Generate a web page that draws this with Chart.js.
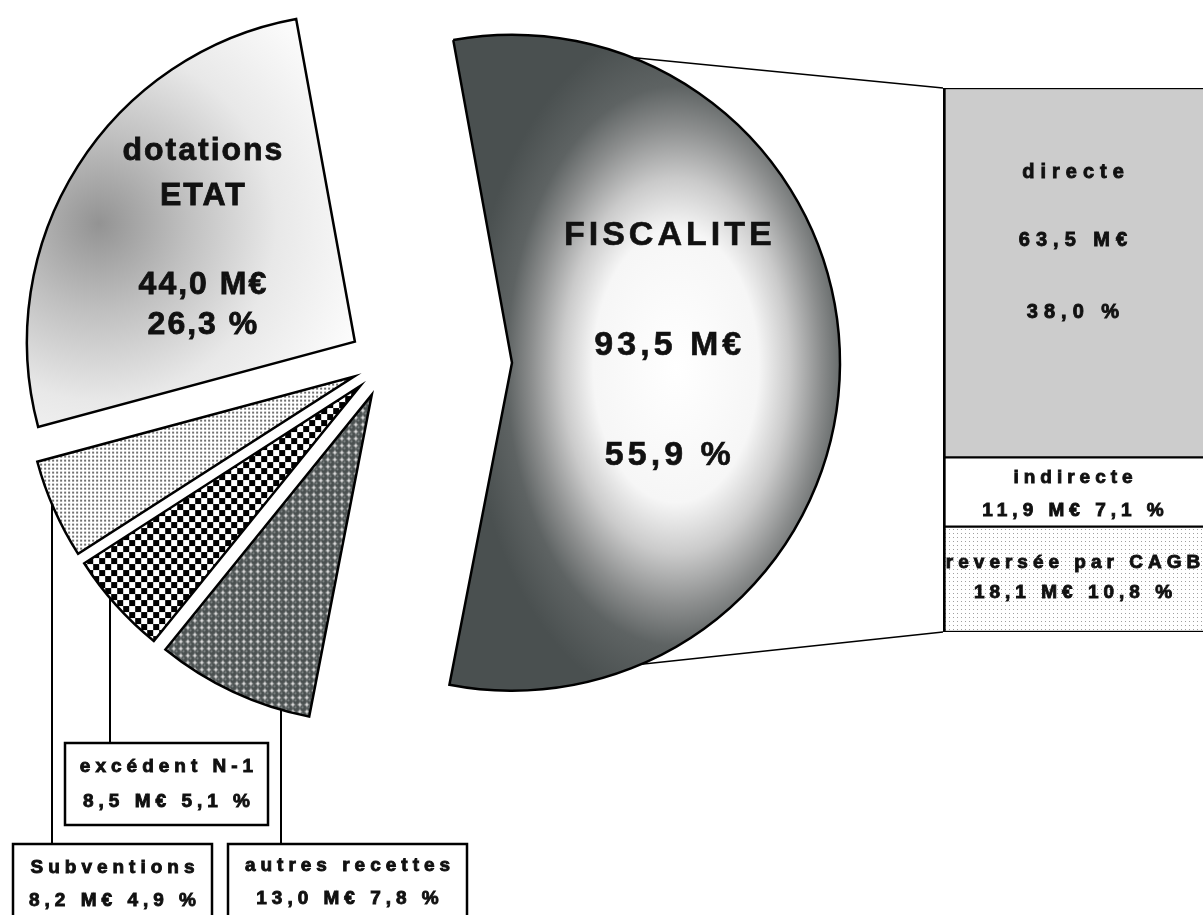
<!DOCTYPE html>
<html>
<head>
<meta charset="utf-8">
<script src="https://cdn.jsdelivr.net/npm/chart.js@4.4.1/dist/chart.umd.min.js"></script>
<style>
  body { margin: 0; background: #fff; }
  #wrap { position: relative; width: 1203px; height: 915px; overflow: hidden; }
  #wrap canvas { position: absolute; left: 0; top: 0; }
</style>
</head>
<body>
<div id="wrap">
  <canvas id="bar" width="1203" height="915"></canvas>
  <canvas id="pie" width="1203" height="915"></canvas>
</div>
<script>
// Recettes (M€) - camembert, dans l'ordre de dessin
var categories = ['autres recettes', 'excédent N-1', 'Subventions', 'dotations ETAT', 'FISCALITE'];
var amounts = [13.0, 8.5, 8.2, 44.0, 93.5];
var percents = [7.8, 5.1, 4.9, 26.3, 55.9];

// Détail de la fiscalité (barre de droite)
var fiscCategories = ['directe', 'indirecte', 'reversée par CAGB'];
var fiscAmounts = [63.5, 11.9, 18.1];
var fiscPercents = [38.0, 7.1, 10.8];

function fr(v) {
    return v.toFixed(1).replace('.', ',');
}

// styles
var RADIUS = 328;
var explode = [36, 36, 36, 38, 125];
var FONT = '"Liberation Sans", Arial, sans-serif';

// boîtes des petites parts (index -> boîte)
var boxes = {
    0: { lineX: 281, x: 228, y: 844, w: 239, h: 80, ty: [866, 899] },
    1: { lineX: 110, x: 65, y: 743, w: 203, h: 82, ty: [767, 802] },
    2: { lineX: 52, x: 13, y: 844, w: 199, h: 80, ty: [868, 901] }
};

var pctx = document.getElementById('pie').getContext('2d');

function tile(w, h, paint) {
    var c = document.createElement('canvas');
    c.width = w; c.height = h;
    paint(c.getContext('2d'));
    return pctx.createPattern(c, 'repeat');
}

var patterns = {
    dots: tile(4, 4, function(g) {
        g.fillStyle = '#fff'; g.fillRect(0, 0, 4, 4);
        g.fillStyle = '#707070'; g.fillRect(1, 1, 2, 2);
    }),
    checker: tile(12, 12, function(g) {
        g.fillStyle = '#fff'; g.fillRect(0, 0, 12, 12);
        g.fillStyle = '#000'; g.fillRect(0, 0, 6, 6); g.fillRect(6, 6, 6, 6);
    }),
    balls: tile(7, 7, function(g) {
        g.fillStyle = '#dcdcdc'; g.fillRect(0, 0, 7, 7);
        g.fillStyle = '#4a5050';
        g.beginPath(); g.arc(3.5, 3.5, 3.4, 0, Math.PI * 2); g.fill();
        g.fillStyle = '#858b8b';
        g.beginPath(); g.arc(2.6, 2.6, 1.1, 0, Math.PI * 2); g.fill();
    }),
    fine: tile(4, 4, function(g) {
        g.fillStyle = '#fff'; g.fillRect(0, 0, 4, 4);
        g.fillStyle = '#a0a0a0'; g.fillRect(1, 1, 1, 1);
    })
};

var fiscPattern = null;

function pieFill(c) {
    var i = c.dataIndex;
    var chart = c.chart;
    if (i === 0) return patterns.balls;
    if (i === 1) return patterns.checker;
    if (i === 2) return patterns.dots;
    var a = chart.chartArea;
    if (!a) return '#cccccc';
    var cx = (a.left + a.right) / 2, cy = (a.top + a.bottom) / 2;
    if (i === 3) {
        var gx = cx - 0.78 * RADIUS, gy = cy - 0.36 * RADIUS;
        var gr = chart.ctx.createRadialGradient(gx, gy, 0, gx, gy, 0.9 * RADIUS);
        gr.addColorStop(0, '#939393');
        gr.addColorStop(0.3, '#c0c0c0');
        gr.addColorStop(0.6, '#e8e8e8');
        gr.addColorStop(1, '#ffffff');
        return gr;
    }
    if (!fiscPattern) {
        // dégradé "depuis le centre", elliptique
        var off = document.createElement('canvas');
        off.width = chart.width; off.height = chart.height;
        var g = off.getContext('2d');
        g.setTransform(0.63 * RADIUS, 0, 0, 1.04 * RADIUS, cx + 0.5 * RADIUS, cy + 0.01 * RADIUS);
        var grad = g.createRadialGradient(0, 0, 0, 0, 0, 1);
        grad.addColorStop(0, '#ffffff');
        grad.addColorStop(0.4, '#f6f6f6');
        grad.addColorStop(0.55, '#cacaca');
        grad.addColorStop(0.7, '#8c8e8e');
        grad.addColorStop(0.82, '#5e6363');
        grad.addColorStop(1, '#4a5050');
        g.fillStyle = grad;
        g.fillRect(-5, -5, 10, 10);
        fiscPattern = chart.ctx.createPattern(off, 'no-repeat');
    }
    return fiscPattern;
}

// texte espacé, épaissi d'un léger contour
function textLine(ctx, txt, x, y, font, spacing, heavy) {
    ctx.font = font;
    ctx.letterSpacing = spacing + 'px';
    ctx.fillText(txt, x + spacing / 2, y);
    if (heavy) {
        ctx.lineWidth = heavy;
        ctx.strokeStyle = ctx.fillStyle;
        ctx.strokeText(txt, x + spacing / 2, y);
    }
}

function apex(arc, i) {
    var mid = (arc.startAngle + arc.endAngle) / 2;
    return { x: arc.x + Math.cos(mid) * explode[i], y: arc.y + Math.sin(mid) * explode[i], mid: mid };
}

// éclatement des parts
var explodePlugin = {
    id: 'explode',
    beforeDatasetDraw: function(chart, args) {
        var ctx = chart.ctx;
        args.meta.data.forEach(function(arc, i) {
            var p = apex(arc, i);
            ctx.save();
            ctx.translate(p.x - arc.x, p.y - arc.y);
            arc.draw(ctx, chart.chartArea);
            ctx.restore();
        });
        return false;
    }
};

var pieLabels = {
    id: 'pieLabels',
    afterDatasetsDraw: function(chart) {
        var ctx = chart.ctx;
        var arcs = chart.getDatasetMeta(0).data;
        ctx.save();
        ctx.fillStyle = '#111';
        ctx.textAlign = 'center';
        ctx.textBaseline = 'middle';

        // dotations ETAT
        var p = apex(arcs[3], 3);
        var lx = p.x + Math.cos(p.mid) * 0.55 * RADIUS;
        var ly = p.y + Math.sin(p.mid) * 0.55 * RADIUS;
        var words = categories[3].split(' ');
        var f1 = 'bold 32px ' + FONT;
        textLine(ctx, words[0], lx, ly - 94, f1, 2, 0.8);
        textLine(ctx, words[1], lx, ly - 49, f1, 2, 0.8);
        textLine(ctx, fr(amounts[3]) + ' M€', lx, ly + 40, f1, 2, 0.8);
        textLine(ctx, fr(percents[3]) + ' %', lx, ly + 80, f1, 2, 0.8);

        // FISCALITE
        p = apex(arcs[4], 4);
        lx = p.x + Math.cos(p.mid) * 0.475 * RADIUS;
        ly = p.y + Math.sin(p.mid) * 0.475 * RADIUS - 18;
        var f2 = 'bold 34px ' + FONT;
        textLine(ctx, categories[4], lx, ly - 110, f2, 4, 0.6);
        textLine(ctx, fr(amounts[4]) + ' M€', lx, ly, f2, 4, 0.6);
        textLine(ctx, fr(percents[4]) + ' %', lx, ly + 110, f2, 4, 0.6);

        // petites parts : trait + boîte
        var f3 = 'bold 19px ' + FONT;
        Object.keys(boxes).forEach(function(k) {
            var i = +k, b = boxes[k];
            var q = apex(arcs[i], i);
            var dx = b.lineX - q.x;
            var y0 = q.y + Math.sqrt(RADIUS * RADIUS - dx * dx);
            ctx.strokeStyle = '#000';
            ctx.lineWidth = 2;
            ctx.beginPath();
            ctx.moveTo(b.lineX, y0);
            ctx.lineTo(b.lineX, b.y);
            ctx.stroke();
            ctx.fillStyle = '#fff';
            ctx.fillRect(b.x, b.y, b.w, b.h);
            ctx.lineWidth = 2.5;
            ctx.strokeRect(b.x, b.y, b.w, b.h);
            ctx.fillStyle = '#111';
            var cx = b.x + b.w / 2;
            textLine(ctx, categories[i], cx, b.ty[0], f3, 5, 0.9);
            textLine(ctx, fr(amounts[i]) + ' M€ ' + fr(percents[i]) + ' %', cx, b.ty[1], f3, 5, 0.9);
        });
        ctx.restore();
    }
};

var pieChart = new Chart(document.getElementById('pie'), {
    type: 'pie',
    data: {
        labels: categories,
        datasets: [{
            data: amounts,
            backgroundColor: pieFill,
            borderColor: '#000',
            borderWidth: 2.5,
            borderJoinStyle: 'miter',
            radius: RADIUS
        }]
    },
    options: {
        responsive: false,
        animation: false,
        rotation: 191,
        layout: { padding: { left: 0, right: 429, top: 0, bottom: 191 } },
        plugins: { legend: { display: false }, tooltip: { enabled: false } }
    },
    plugins: [explodePlugin, pieLabels]
});

// libellés de la barre
var barTextOffsets = [[-100, -32, 40], [-14, 19], [-17, 13]];

var barLabels = {
    id: 'barLabels',
    afterDatasetsDraw: function(chart) {
        var ctx = chart.ctx;
        ctx.save();
        ctx.fillStyle = '#111';
        ctx.textAlign = 'center';
        ctx.textBaseline = 'middle';
        fiscCategories.forEach(function(name, i) {
            var el = chart.getDatasetMeta(i).data[0];
            var top = Math.min(el.y, el.base), bottom = Math.max(el.y, el.base);
            var cy = (top + bottom) / 2;
            var o = barTextOffsets[i];
            if (i === 0) {
                var f = 'bold 20px ' + FONT;
                textLine(ctx, name, el.x, cy + o[0], f, 6, 0.9);
                textLine(ctx, fr(fiscAmounts[i]) + ' M€', el.x, cy + o[1], f, 6, 0.9);
                textLine(ctx, fr(fiscPercents[i]) + ' %', el.x, cy + o[2], f, 6, 0.9);
            } else {
                var f2 = 'bold 19px ' + FONT;
                textLine(ctx, name, el.x, cy + o[0], f2, 5, 0.9);
                textLine(ctx, fr(fiscAmounts[i]) + ' M€ ' + fr(fiscPercents[i]) + ' %', el.x, cy + o[1], f2, 5, 0.9);
            }
        });
        ctx.restore();
    }
};

// traits entre la part FISCALITE et la barre (sous le camembert)
var connectors = {
    id: 'connectors',
    beforeDatasetsDraw: function(chart) {
        var arc = pieChart.getDatasetMeta(0).data[4];
        var p = apex(arc, 4);
        var r = arc.outerRadius;
        var topEl = chart.getDatasetMeta(0).data[0];
        var botEl = chart.getDatasetMeta(2).data[0];
        var left = topEl.x - topEl.width / 2;
        var top = Math.min(topEl.y, topEl.base);
        var bottom = Math.max(botEl.y, botEl.base);
        var ctx = chart.ctx;
        ctx.save();
        ctx.strokeStyle = '#000';
        ctx.lineWidth = 1.5;
        ctx.beginPath();
        ctx.moveTo(p.x + Math.cos(arc.startAngle) * r, p.y + Math.sin(arc.startAngle) * r);
        ctx.lineTo(left, top);
        ctx.moveTo(p.x + Math.cos(arc.endAngle) * r, p.y + Math.sin(arc.endAngle) * r);
        ctx.lineTo(left, bottom);
        ctx.stroke();
        ctx.restore();
    }
};

var barFills = ['#cccccc', '#ffffff', patterns.fine];

new Chart(document.getElementById('bar'), {
    type: 'bar',
    data: {
        labels: [categories[4]],
        datasets: fiscCategories.map(function(c, i) {
            return {
                label: c,
                data: [fiscAmounts[i]],
                backgroundColor: barFills[i],
                borderColor: '#000',
                borderWidth: { top: 1.5, bottom: 1.5, left: 3, right: 0 },
                borderSkipped: false,
                categoryPercentage: 1,
                barPercentage: 1
            };
        })
    },
    options: {
        responsive: false,
        animation: false,
        layout: { padding: { left: 943, right: 0, top: 88, bottom: 283 } },
        scales: {
            x: { stacked: true, display: false },
            y: {
                stacked: true, display: false, reverse: true, min: 0,
                max: fiscAmounts.reduce(function(a, b) { return a + b; }, 0)
            }
        },
        plugins: { legend: { display: false }, tooltip: { enabled: false } }
    },
    plugins: [barLabels, connectors]
});
</script>
</body>
</html>
